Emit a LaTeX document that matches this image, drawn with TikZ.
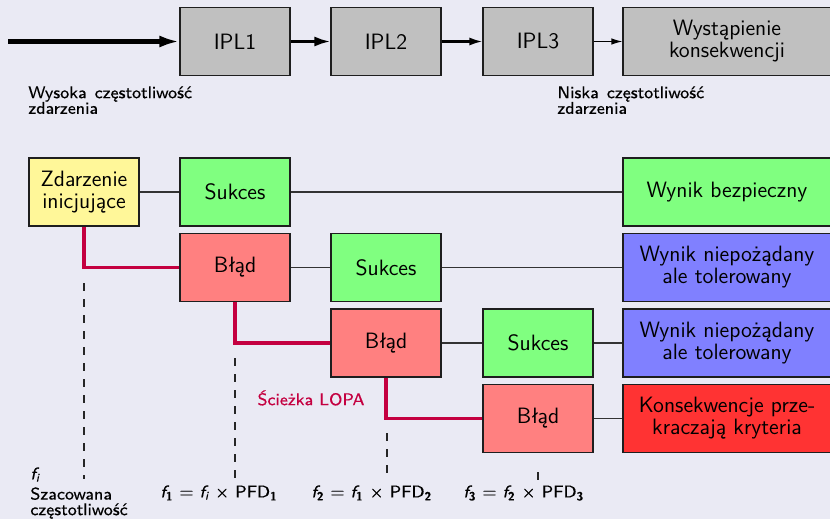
\documentclass[tikz,border=0pt]{standalone}
\usepackage{fontspec}
\newfontfamily\notefont[FakeBold=0.35]{Latin Modern Sans}
\usetikzlibrary{arrows.meta}
\definecolor{bg}{RGB}{234,234,244}
\definecolor{lopa}{RGB}{196,0,64}
\definecolor{iplfill}{RGB}{192,192,192}
\definecolor{okfill}{RGB}{128,255,128}
\definecolor{badfill}{RGB}{255,128,128}
\definecolor{tolfill}{RGB}{128,128,255}
\definecolor{iefill}{RGB}{255,247,153}
\definecolor{critfill}{RGB}{255,51,51}
\definecolor{edge}{RGB}{30,30,30}
\begin{document}
\begin{tikzpicture}[x=0.5pt,y=-0.5pt,
  font=\sffamily\fontsize{11.1}{11}\selectfont,
  box/.style={draw=edge, line width=0.55pt, minimum width=55pt, minimum height=34pt, align=center, inner sep=1pt},
  wide/.style={box, minimum width=104pt},
  link/.style={draw=black!80, line width=0.55pt},
  lopapath/.style={draw=lopa, line width=1.6pt},
  guide/.style={draw=black!85, line width=0.6pt, dash pattern=on 4pt off 4pt},
  note/.style={font=\notefont\fontsize{8.5}{7.8}\selectfont, align=left, inner sep=0pt, anchor=north west}]
\fill[bg] (0,0) rectangle (830,519);
\useasboundingbox (0,0) rectangle (830,519);
% top row
\node[box, fill=iplfill] (ipl1) at (235,41.5) {IPL1};
\node[box, fill=iplfill] (ipl2) at (386,41.5) {IPL2};
\node[box, fill=iplfill] (ipl3) at (538,41.5) {IPL3};
\node[wide, fill=iplfill] (cons) at (727,41.5) {Wystąpienie\\konsekwencji};
\coordinate (start) at (8,41.5);
\draw[line width=2.3pt, -{Latex[length=10pt,width=6pt]}] (start) -- (ipl1);
\draw[line width=1.4pt, -{Latex[length=8pt,width=5pt]}] (ipl1) -- (ipl2);
\draw[line width=1.05pt, -{Latex[length=6.5pt,width=4pt]}] (ipl2) -- (ipl3);
\draw[line width=0.55pt, -{Latex[length=5.5pt,width=3.2pt]}] (ipl3) -- (cons);
\node[note] (hi) at (28,86) {Wysoka\hspace{4pt}częstotliwość\\zdarzenia};
\node[note] (lo) at (557,86) {Niska\hspace{4pt}częstotliwość\\zdarzenia};
% event tree
\node[box, fill=iefill] (ie) at (84,192) {Zdarzenie\\inicjujące};
\node[box, fill=okfill] (s1) at (235,192) {Sukces};
\node[wide, fill=okfill] (r1) at (727,192) {Wynik bezpieczny};
\node[box, fill=badfill] (b1) at (235,267.5) {Błąd};
\node[box, fill=okfill] (s2) at (386,267.5) {Sukces};
\node[wide, fill=tolfill] (r2) at (727,267.5) {Wynik niepożądany\\ale tolerowany};
\node[box, fill=badfill] (b2) at (386,343) {Błąd};
\node[box, fill=okfill] (s3) at (538,343) {Sukces};
\node[wide, fill=tolfill] (r3) at (727,343) {Wynik niepożądany\\ale tolerowany};
\node[box, fill=badfill] (b3) at (538,418.5) {Błąd};
\node[wide, fill=critfill] (r4) at (727,418.5) {Konsekwencje prze-\\kraczają kryteria};
\draw[link] (ie) -- (s1);
\draw[link] (s1) -- (r1);
\draw[link] (b1) -- (s2);
\draw[link] (s2) -- (r2);
\draw[link] (b2) -- (s3);
\draw[link] (s3) -- (r3);
\draw[link] (b3) -- (r4);
\draw[lopapath] (ie.south) |- (b1.west);
\draw[lopapath] (b1.south) |- (b2.west);
\draw[lopapath] (b2.south) |- (b3.west);
\node[note, anchor=center, text=lopa] (path) at (311,398) {Ścieżka LOPA};
% guides
\coordinate (g0a) at (84,283);  \coordinate (g0b) at (84,479);
\coordinate (g1a) at (235,358); \coordinate (g1b) at (235,479);
\coordinate (g2a) at (387,433); \coordinate (g2b) at (387,475);
\coordinate (g3a) at (538,472); \coordinate (g3b) at (538,480);
\draw[guide] (g0a) -- (g0b);
\draw[guide] (g1a) -- (g1b);
\draw[guide] (g2a) -- (g2b);
\draw[guide] (g3a) -- (g3b);
\node[note] (fi) at (30,467) {\itshape f\textsubscript{i}};
\node[note] (est) at (30,487) {Szacowana\\częstotliwość};
\node[note] (f1) at (160,485) {{\itshape f}\textsubscript{\bfseries 1} = {\itshape f}\textsubscript{\itshape i} × PFD\textsubscript{\bfseries 1}};
\node[note] (f2) at (311,485) {{\itshape f}\textsubscript{\bfseries 2} = {\itshape f}\textsubscript{\bfseries 1} × PFD\textsubscript{\bfseries 2}};
\node[note] (f3) at (463,485) {{\itshape f}\textsubscript{\bfseries 3} = {\itshape f}\textsubscript{\bfseries 2} × PFD\textsubscript{\bfseries 3}};
\end{tikzpicture}
\end{document}
